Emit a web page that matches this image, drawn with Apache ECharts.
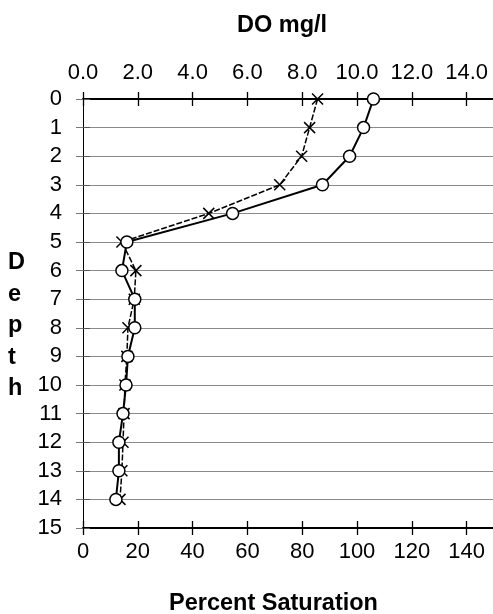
<!DOCTYPE html>
<html>
<head>
<meta charset="utf-8">
<script src="https://cdn.jsdelivr.net/npm/echarts@6/dist/echarts.min.js"></script>
<style>
  html, body { margin: 0; padding: 0; background: #fff; }
  #chart { width: 493px; height: 614px; }
</style>
</head>
<body>
<div id="chart"></div>
<script>
// Depth profile (m) of dissolved oxygen
const depths = [0, 1, 2, 3, 4, 5, 6, 7, 8, 9, 10, 11, 12, 13, 14];
// Percent saturation (circles, bottom axis)
const saturationPct = [106, 102.4, 97.3, 87.4, 54.6, 16.0, 14.2, 18.9, 18.9, 16.4, 15.7, 14.6, 13.1, 13.1, 12.0];
// Dissolved oxygen in mg/l (crosses, top axis)
const doMgL = [8.56, 8.27, 7.98, 7.18, 4.59, 1.42, 1.93, 1.87, 1.64, 1.60, 1.53, 1.50, 1.46, 1.42, 1.35];

const FONT = 'Liberation Sans, Arial, sans-serif';
const labelFont = { fontFamily: FONT, fontSize: 22, color: '#000' };
const titleFont = { fontFamily: FONT, fontSize: 23.5, fontWeight: 'bold', fill: '#000' };

const pctPoints = depths.map((d, i) => [saturationPct[i], d]);
const doPoints = depths.map((d, i) => [doMgL[i], d]);

const crossPath = 'path://M0,0L10,10M10,0L0,10';

const chart = echarts.init(document.getElementById('chart'), null, { renderer: 'canvas' });

// Axis that only draws inward ticks, so ticks cross the main axis line
const tickOnly = (extra) => Object.assign({
  show: true,
  axisLine: { show: false, onZero: false },
  axisLabel: { show: false },
  splitLine: { show: false },
  axisTick: { show: true, inside: true, length: 7, lineStyle: { color: '#000', width: 1.3 } }
}, extra);

chart.setOption({
  animation: false,
  backgroundColor: '#fff',
  grid: { left: 83, top: 99, width: 411, height: 429, containLabel: false, outerBoundsMode: 'none' },
  xAxis: [
    {
      type: 'value', position: 'bottom', min: 0, max: 150, interval: 20,
      axisLine: { show: true, onZero: false, lineStyle: { color: '#000', width: 2 } },
      axisTick: { show: true, length: 7, lineStyle: { color: '#000', width: 1.3 } },
      axisLabel: Object.assign({ margin: 13, showMaxLabel: false }, labelFont),
      splitLine: { show: false }
    },
    {
      type: 'value', position: 'top', min: 0, max: 15, interval: 2,
      axisLine: { show: true, onZero: false, lineStyle: { color: '#000', width: 2 } },
      axisTick: { show: true, length: 7, lineStyle: { color: '#000', width: 1.3 } },
      axisLabel: Object.assign({ margin: 15, showMaxLabel: false, formatter: v => v.toFixed(1) }, labelFont),
      splitLine: { show: false }
    },
    tickOnly({ type: 'value', position: 'bottom', min: 0, max: 150, interval: 20 }),
    tickOnly({ type: 'value', position: 'top', min: 0, max: 15, interval: 2 })
  ],
  yAxis: [
    {
      type: 'value', inverse: true, min: 0, max: 15, interval: 1, position: 'left',
      axisLine: { show: true, onZero: false, lineStyle: { color: '#000', width: 1 } },
      axisTick: { show: true, length: 7, lineStyle: { color: '#777', width: 1 } },
      axisLabel: Object.assign({ margin: 21 }, labelFont),
      splitLine: { show: true, lineStyle: { color: '#8a8a8a', width: 1 } }
    },
    tickOnly({ type: 'value', inverse: true, min: 0, max: 15, interval: 1, position: 'left',
      axisTick: { show: true, inside: true, length: 7, lineStyle: { color: '#555', width: 1 } } })
  ],
  series: [
    {
      name: 'DO mg/l', type: 'line', xAxisIndex: 1, yAxisIndex: 0,
      data: doPoints,
      symbol: crossPath, symbolSize: 11,
      lineStyle: { color: '#000', width: 1.5, type: [6, 2] },
      itemStyle: { color: 'none', borderColor: '#000', borderWidth: 1.5 },
      z: 3
    },
    {
      name: 'Percent Saturation', type: 'line', xAxisIndex: 0, yAxisIndex: 0,
      data: pctPoints,
      symbol: 'circle', symbolSize: 12,
      lineStyle: { color: '#000', width: 2 },
      itemStyle: { color: '#fff', borderColor: '#000', borderWidth: 1.5 },
      z: 4
    }
  ],
  graphic: [
    { type: 'text', left: 237, top: 14, style: Object.assign({ text: 'DO mg/l' }, titleFont) },
    { type: 'text', left: 169, top: 592, style: Object.assign({ text: 'Percent Saturation' }, titleFont) },
    { type: 'text', left: 8, top: 247, style: Object.assign({ text: 'D\ne\np\nt\nh', lineHeight: 31.5, align: 'center', width: 20 }, titleFont) }
  ]
});
</script>
</body>
</html>
